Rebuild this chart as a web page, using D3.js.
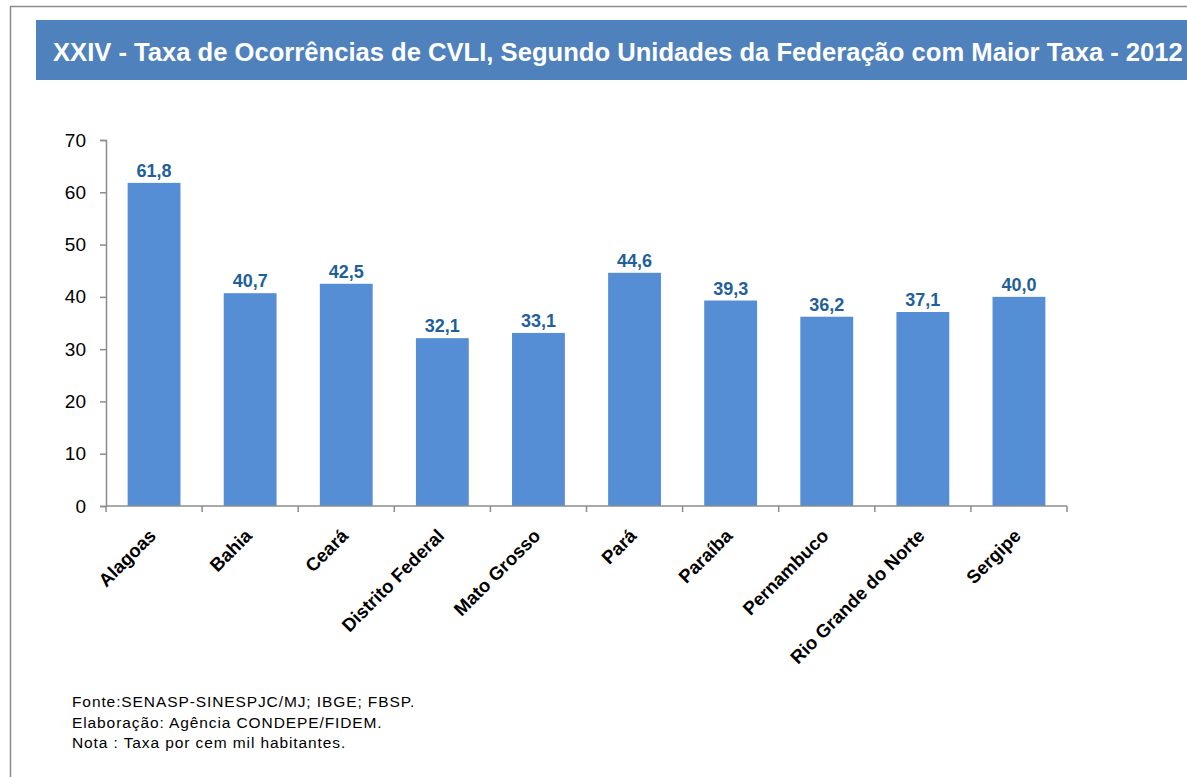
<!DOCTYPE html>
<html>
<head>
<meta charset="utf-8">
<script src="https://cdn.jsdelivr.net/npm/d3@7"></script>
<style>
  html, body { margin: 0; padding: 0; background: #fff; }
  svg { display: block; }
</style>
</head>
<body>
<script>
// Unidades da Federação e taxa de CVLI por cem mil habitantes (2012)
const estados = ["Alagoas", "Bahia", "Ceará", "Distrito Federal", "Mato Grosso",
                 "Pará", "Paraíba", "Pernambuco", "Rio Grande do Norte", "Sergipe"];
const taxas = [61.8, 40.7, 42.5, 32.1, 33.1, 44.6, 39.3, 36.2, 37.1, 40.0];
const yTicks = [0, 10, 20, 30, 40, 50, 60, 70];

const titulo = "XXIV - Taxa de Ocorrências de CVLI, Segundo Unidades da Federação com Maior Taxa - 2012";
const notas = [
  "Fonte:SENASP-SINESPJC/MJ; IBGE; FBSP.",
  "Elaboração: Agência CONDEPE/FIDEM.",
  "Nota : Taxa por cem mil habitantes."
];

const W = 1187, H = 777;
const font = "Arial, 'Liberation Sans', sans-serif";
const svg = d3.select("body").append("svg").attr("width", W).attr("height", H);

// moldura
svg.append("path")
  .attr("d", `M10.5,${H} V6.5 H${W}`)
  .attr("fill", "none").attr("stroke", "#8c8c8c").attr("stroke-width", 1.5);

// faixa do título
svg.append("rect").attr("x", 36).attr("y", 20).attr("width", W - 36).attr("height", 60)
  .attr("fill", "#4f81bd");
svg.append("text").attr("x", 53).attr("y", 61)
  .attr("fill", "#fff").attr("font-family", font)
  .attr("font-weight", "bold").attr("font-size", 25.6)
  .text(titulo);

const plot = { left: 106, right: 1067, top: 140, bottom: 506 };

const x = d3.scaleBand().domain(estados).range([plot.left, plot.right])
  .paddingInner(0.45).paddingOuter(0.225);
const y = d3.scaleLinear().domain([0, 70]).range([plot.bottom, plot.top]);

// eixo Y
const gy = svg.append("g").attr("transform", `translate(${plot.left},0)`)
  .call(d3.axisLeft(y).tickValues(yTicks).tickSize(6).tickPadding(14).tickFormat(d3.format("d")));
gy.select(".domain").attr("stroke", "#8c8c8c").attr("stroke-width", 1.5);
gy.selectAll(".tick line").attr("stroke", "#8c8c8c").attr("stroke-width", 1.5);
gy.selectAll(".tick text").attr("font-family", font).attr("font-size", 19).attr("fill", "#000");

// barras
svg.append("g").selectAll("rect").data(estados).join("rect")
  .attr("x", d => x(d))
  .attr("width", x.bandwidth())
  .attr("y", (d, i) => y(taxas[i]))
  .attr("height", (d, i) => y(0) - y(taxas[i]))
  .attr("fill", "#558ed5");

// eixo X com marcas entre as categorias
const gx = svg.append("g").attr("transform", `translate(0,${plot.bottom})`);
gx.append("line").attr("x1", plot.left).attr("x2", plot.right)
  .attr("stroke", "#8c8c8c").attr("stroke-width", 1.5);
const bordas = estados.map(d => x(d) - x.step() * x.paddingInner() / 2)
  .concat([plot.right]);
gx.selectAll("line.tk").data(bordas).join("line").attr("class", "tk")
  .attr("x1", d => d).attr("x2", d => d).attr("y1", 0).attr("y2", 6)
  .attr("stroke", "#8c8c8c").attr("stroke-width", 1.5);

// rótulos das categorias
svg.append("g").selectAll("text").data(estados).join("text")
  .attr("transform", d => `translate(${x(d) + x.bandwidth() / 2 + 3},${plot.bottom + 31}) rotate(-45)`)
  .attr("text-anchor", "end")
  .attr("font-family", font).attr("font-weight", "bold").attr("font-size", 18.5)
  .attr("fill", "#000")
  .text(d => d);

// rótulos de valor
const fmt = v => v.toFixed(1).replace(".", ",");
svg.append("g").selectAll("text").data(estados).join("text")
  .attr("x", d => x(d) + x.bandwidth() / 2)
  .attr("y", (d, i) => y(taxas[i]) - 6)
  .attr("text-anchor", "middle")
  .attr("font-family", font).attr("font-weight", "bold").attr("font-size", 18)
  .attr("fill", "#1f5f9b")
  .text((d, i) => fmt(taxas[i]));

// notas de rodapé
svg.append("g").selectAll("text").data(notas).join("text")
  .attr("x", 72).attr("y", (d, i) => 707 + i * 20.5)
  .attr("font-family", font).attr("font-size", 15.5).attr("letter-spacing", 0.9)
  .attr("fill", "#000")
  .text(d => d);
</script>
</body>
</html>
